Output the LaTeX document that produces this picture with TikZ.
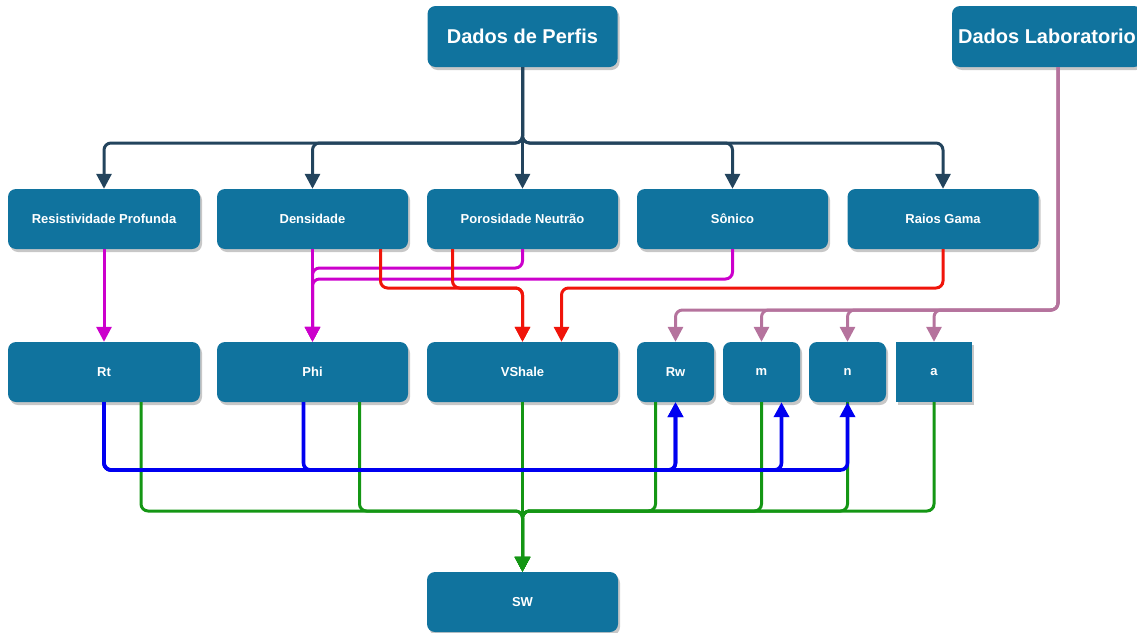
\documentclass[tikz,border=0pt]{standalone}
\usepackage{fontspec}
\setmainfont{Liberation Sans}
\usetikzlibrary{arrows.meta,shadows}
\definecolor{boxc}{HTML}{10739E}
\definecolor{dkc}{HTML}{23445D}
\definecolor{mgc}{HTML}{CC00CC}
\definecolor{rdc}{RGB}{240,20,10}
\definecolor{blc}{HTML}{0000F0}
\definecolor{grc}{RGB}{20,150,20}
\definecolor{mvc}{HTML}{B5739D}
\begin{document}
\begin{tikzpicture}[x=1pt,y=-1pt,
  box/.style={draw=none,fill=boxc,rounded corners=8pt,text=white,
    font=\bfseries\fontsize{13}{15}\selectfont,minimum height=60pt,
    minimum width=191pt,inner sep=0pt,
    drop shadow={shadow xshift=2pt,shadow yshift=-3pt,fill=black,opacity=.22}},
  bigbox/.style={box,font=\bfseries\fontsize{20}{24}\selectfont,minimum height=61pt,minimum width=190pt},
  sbox/.style={box,minimum width=77pt},
  conn/.style={line width=3pt,rounded corners=7pt,-{Triangle[width=15pt,length=15pt]}},
  dk/.style={conn,draw=dkc},
  mg/.style={conn,draw=mgc},
  rd/.style={conn,draw=rdc},
  bl/.style={conn,draw=blc,line width=3.6pt},
  gr/.style={conn,draw=grc},
  mv/.style={conn,draw=mvc}]
\useasboundingbox (0,0) rectangle (1137,632);

% nodes
\node[bigbox] (perfis) at (522.5,36.5) {Dados de Perfis};
\node[bigbox] (lab) at (1047,36.5) {Dados Laboratorio};

\node[box,minimum width=192pt] (res) at (104,219) {Resistividade Profunda};
\node[box] (dens) at (312.5,219) {Densidade};
\node[box] (poro) at (522.5,219) {Porosidade Neutrão};
\node[box] (son) at (732.5,219) {Sônico};
\node[box] (raios) at (943,219) {Raios Gama};

\node[box,minimum width=192pt] (rt) at (104,372) {Rt};
\node[box] (phi) at (312.5,372) {Phi};
\node[box] (vsh) at (522.5,372) {VShale};
\node[sbox] (rw) at (675.5,372) {Rw};
\node[sbox] (m) at (761.5,372) {m};
\node[sbox] (n) at (847.5,372) {n};
\node[sbox,sharp corners,minimum width=76pt] (a) at (934,372) {a};

\node[box] (sw) at (522.5,602) {SW};

% levels
\coordinate (bus) at (0,143);
\coordinate (pm1) at (0,268);
\coordinate (pm2) at (0,279);
\coordinate (rlev) at (0,288);
\coordinate (mlev) at (0,310);
\coordinate (blev) at (0,470);
\coordinate (glev) at (0,511);

% Dados de Perfis tree
\foreach \t in {res,dens,son,raios}
  \draw[dk] (perfis.south) |- (\t.north |- bus) -- (\t.north);
\draw[dk] (perfis.south) -- (poro.north);

% magenta
\draw[mg] (res.south) -- (rt.north);
\draw[mg] (dens.south) -- (phi.north);
\draw[mg] (poro.south) |- (phi.north |- pm1) -- (phi.north);
\draw[mg] (son.south) |- (phi.north |- pm2) -- (phi.north);

% red
\draw[rd] ([xshift=68pt]dens.south) |- (vsh.north |- rlev) -- (vsh.north);
\draw[rd] ([xshift=-70pt]poro.south) |- (vsh.north |- rlev) -- (vsh.north);
\draw[rd] (raios.south) |- ([xshift=39pt]vsh.north |- rlev) -- ([xshift=39pt]vsh.north);

% mauve
\foreach \t in {rw,m,n,a}
  \draw[mv] ([xshift=11pt]lab.south) |- (\t.north |- mlev) -- (\t.north);

% green
\draw[gr] ([xshift=37pt]rt.south) |- (sw.north |- glev) -- (sw.north);
\draw[gr] ([xshift=47pt]phi.south) |- (sw.north |- glev) -- (sw.north);
\draw[gr] (vsh.south) -- (sw.north);
\draw[gr] ([xshift=-20pt]rw.south) |- (sw.north |- glev) -- (sw.north);
\draw[gr] (m.south) |- (sw.north |- glev) -- (sw.north);
\draw[gr] (n.south) |- (sw.north |- glev) -- (sw.north);
\draw[gr] (a.south) |- (sw.north |- glev) -- (sw.north);

% blue
\draw[bl] (rt.south) |- (rw.south |- blev) -- (rw.south);
\draw[bl] (rt.south) |- ([xshift=20pt]m.south |- blev) -- ([xshift=20pt]m.south);
\draw[bl] (rt.south) |- (n.south |- blev) -- (n.south);
\draw[bl] ([xshift=-9pt]phi.south) |- (rw.south |- blev) -- (rw.south);
\end{tikzpicture}
\end{document}
